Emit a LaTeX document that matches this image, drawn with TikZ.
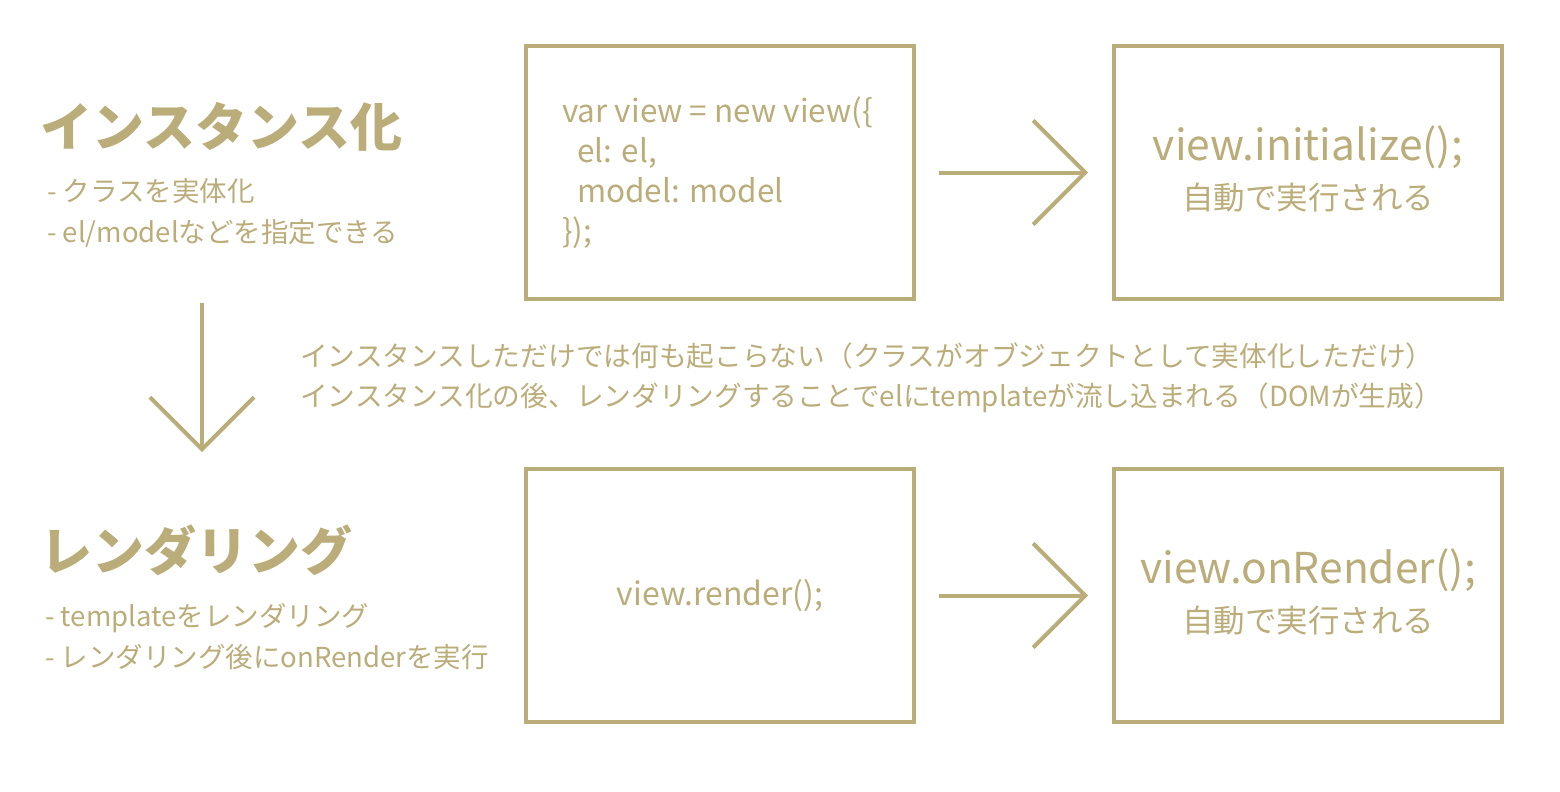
\documentclass[tikz,border=0pt]{standalone}
\usepackage{fontspec}
\setmainfont{Noto Sans CJK JP}
\usepackage{xcolor}
\usetikzlibrary{arrows.meta}
\definecolor{khaki}{HTML}{BAAD7A}

\begin{document}
\begin{tikzpicture}[x=1pt,y=-1pt,
  box/.style={draw=khaki,line width=4pt,minimum width=388pt,minimum height=253pt,inner sep=0pt},
  title/.style={khaki,anchor=west,inner sep=0pt,font=\fontsize{52}{60}\selectfont\bfseries},
  note/.style={khaki,anchor=west,align=left,inner sep=0pt,font=\fontsize{27.5}{41}\selectfont},
  call/.style={khaki,inner sep=0pt,font=\fontsize{42.5}{50}\selectfont},
  auto/.style={khaki,inner sep=0pt,font=\fontsize{31.5}{36}\selectfont}]
\useasboundingbox (0,0) rectangle (1560,792);

    % left column
    \node[title] (inst) at (40,127) {インスタンス化};
    \node[note] (instnote) at (47,212.5) {- クラスを実体化\\- el/modelなどを指定できる};
    \node[title] (rend) at (40,550) {レンダリング};
    \node[note] (rendnote) at (45,637) {- templateをレンダリング\\- レンダリング後にonRenderを実行};
    \node[note,font=\fontsize{27.7}{40}\selectfont] (midnote) at (300,378)
        {インスタンスしただけでは何も起こらない（クラスがオブジェクトとして実体化しただけ）\\
         インスタンス化の後、レンダリングすることでelにtemplateが流し込まれる（DOMが生成）};

    % boxes
    \node[box] (newview) at (720,172.5) {};
    \node[box] (init) at (1308,172.5) {};
    \node[box] (render) at (720,595.5) {};
    \node[box] (onrender) at (1308,595.5) {};

    \node[note,font=\fontsize{31.5}{40}\selectfont] (code) at (562,172.5)
        {var view = new view(\{\\\hspace*{15pt}el: el,\\\hspace*{15pt}model: model\\\});};
    \node[call] (initcall) at ([yshift=25pt]init.center) {view.initialize();};
    \node[auto] (initauto) at ([yshift=-25pt]init.center) {自動で実行される};
    \node[auto,font=\fontsize{32}{36}\selectfont] (rendercall) at (render.center) {view.render();};
    \node[call] (onrendercall) at ([yshift=25pt]onrender.center) {view.onRender();};
    \node[auto] (onrenderauto) at ([yshift=-25pt]onrender.center) {自動で実行される};

    \coordinate (downtop) at (202,303);
    \coordinate (downend) at (202,452);

\begin{scope}[>={Straight Barb[length=52pt,width=104pt]},line width=4pt]
    \draw[khaki,->,shorten <=23pt,shorten >=24pt] (newview) -- (init);
    \draw[khaki,->,shorten <=23pt,shorten >=24pt] (render) -- (onrender);
    \draw[khaki,->] (downtop) -- (downend);
\end{scope}
\end{tikzpicture}
\end{document}
